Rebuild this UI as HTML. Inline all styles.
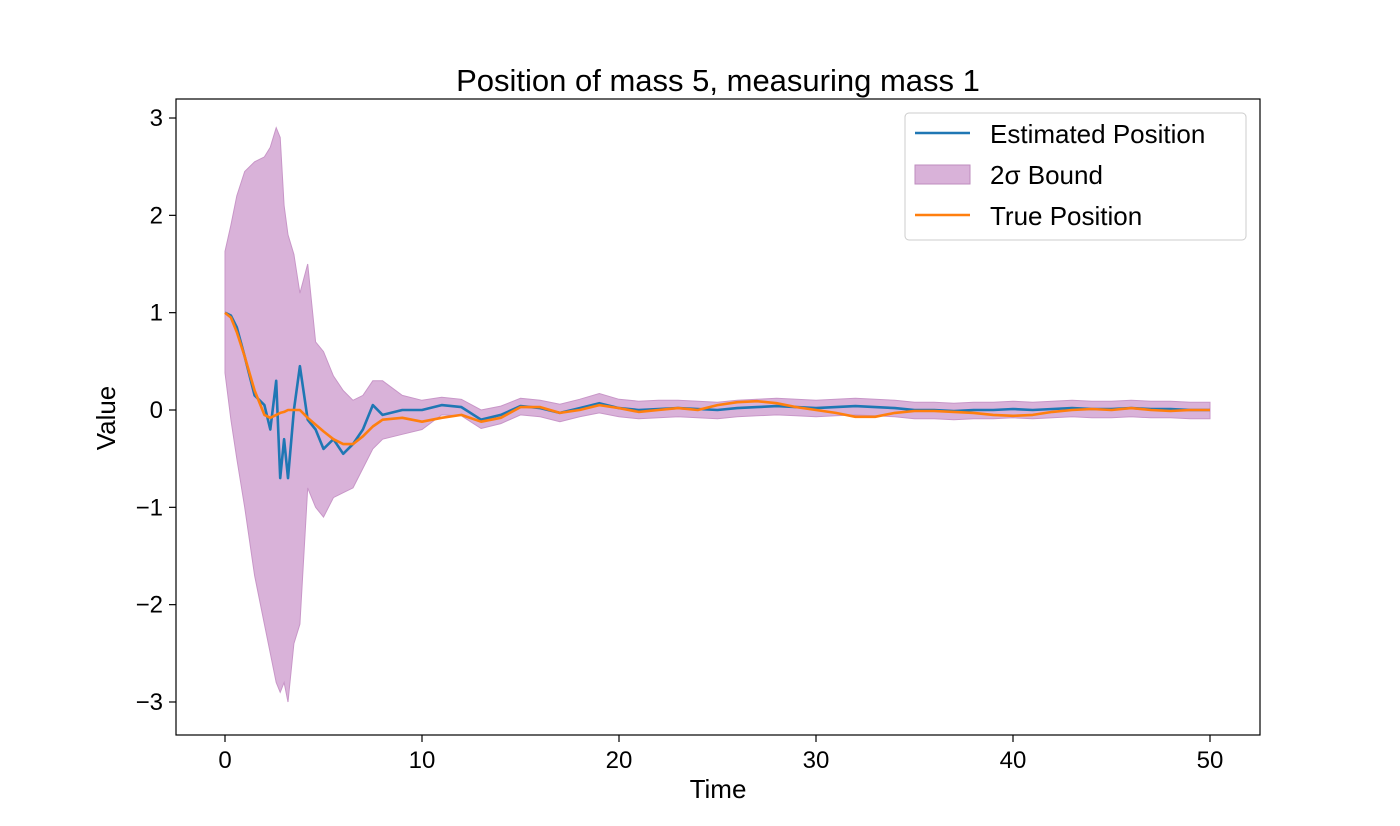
<!DOCTYPE html>
<html><head><meta charset="utf-8"><style>
html,body{margin:0;padding:0;background:#fff;}
svg{display:block;font-family:"Liberation Sans","DejaVu Sans",sans-serif;}
</style></head><body>
<svg id="chart" width="1400" height="826" viewBox="0 0 1400 826">
<rect width="1400" height="826" fill="#fff"/>
<text x="718" y="91" font-size="31" text-anchor="middle" fill="#000">Position of mass 5, measuring mass 1</text>
<g id="plot"></g>
<rect x="176" y="99" width="1084" height="636" fill="none" stroke="#000" stroke-width="1.2"/>
<g id="xticks"></g>
<g id="yticks"></g>
<text x="718" y="798" font-size="26" text-anchor="middle">Time</text>
<text x="115" y="418" font-size="26" text-anchor="middle" transform="rotate(-90 115 418)">Value</text>
<g>
<rect x="905" y="113" width="341" height="127" rx="4" fill="#fff" fill-opacity="0.8" stroke="#ccc"/>
<line x1="915" y1="133" x2="970" y2="133" stroke="#1f77b4" stroke-width="2.5"/>
<text x="990" y="143" font-size="26">Estimated Position</text>
<rect x="915" y="165" width="55" height="19" fill="rgb(217,178,217)" stroke="rgb(190,140,190)"/>
<text x="990" y="184" font-size="26">2σ Bound</text>
<line x1="915" y1="215" x2="970" y2="215" stroke="#ff7f0e" stroke-width="2.5"/>
<text x="990" y="225" font-size="26">True Position</text>
</g>
</svg>
<script>
const times = [0,0.3,0.6,1,1.5,2,2.3,2.6,2.8,3,3.2,3.5,3.8,4.2,4.6,5,5.5,6,6.5,7,7.5,8,9,10,11,12,13,14,15,16,17,18,19,20,21,22,23,24,25,26,27,28,29,30,31,32,33,34,35,36,37,38,39,40,41,42,43,44,45,46,47,48,49,50];
const estimated = [1,0.97,0.85,0.55,0.15,0.05,-0.2,0.3,-0.7,-0.3,-0.7,0,0.45,-0.1,-0.2,-0.4,-0.3,-0.45,-0.35,-0.2,0.05,-0.05,0,0,0.05,0.03,-0.1,-0.05,0.04,0.02,-0.03,0.02,0.07,0.02,0,0.01,0.02,0.01,0,0.02,0.03,0.04,0.03,0.02,0.03,0.04,0.03,0.02,0,0,-0.01,0,0,0.01,0,0.01,0.02,0.01,0.01,0.02,0.01,0.01,0,0];
const truth = [1,0.95,0.8,0.55,0.2,-0.05,-0.08,-0.05,-0.03,-0.02,0,0,0,-0.08,-0.15,-0.22,-0.3,-0.35,-0.35,-0.27,-0.17,-0.1,-0.08,-0.12,-0.08,-0.05,-0.12,-0.08,0.03,0.03,-0.03,0,0.05,0.02,-0.02,0,0.02,0,0.05,0.08,0.09,0.07,0.03,0,-0.03,-0.07,-0.07,-0.03,-0.01,-0.01,-0.02,-0.03,-0.05,-0.06,-0.05,-0.02,0,0.01,0,0.02,0,-0.01,0,0];
const upper = [1.63,1.9,2.2,2.45,2.55,2.6,2.7,2.9,2.8,2.1,1.8,1.6,1.2,1.5,0.7,0.6,0.35,0.2,0.1,0.15,0.3,0.3,0.15,0.1,0.13,0.11,0.0,0.04,0.12,0.1,0.06,0.11,0.17,0.11,0.09,0.1,0.1,0.09,0.08,0.1,0.11,0.12,0.11,0.1,0.11,0.12,0.11,0.1,0.08,0.08,0.07,0.08,0.08,0.09,0.08,0.09,0.1,0.09,0.09,0.1,0.09,0.09,0.08,0.08];
const lower = [0.38,-0.1,-0.5,-1.0,-1.7,-2.2,-2.5,-2.8,-2.9,-2.8,-3.0,-2.4,-2.2,-0.8,-1.0,-1.1,-0.9,-0.85,-0.8,-0.6,-0.4,-0.3,-0.25,-0.2,-0.05,-0.06,-0.19,-0.14,-0.05,-0.07,-0.12,-0.07,-0.03,-0.07,-0.09,-0.08,-0.07,-0.08,-0.09,-0.07,-0.06,-0.05,-0.06,-0.07,-0.06,-0.05,-0.06,-0.07,-0.09,-0.09,-0.1,-0.09,-0.09,-0.08,-0.09,-0.08,-0.07,-0.08,-0.08,-0.07,-0.08,-0.08,-0.09,-0.09];
const xTicks = [0,10,20,30,40,50];
const yTicks = [3,2,1,0,-1,-2,-3];
const yTickLabels = ["3","2","1","0","\u22121","\u22122","\u22123"];

const NS = "http://www.w3.org/2000/svg";
function xs(t){ return 225 + t*19.7; }
function ys(v){ return 410 - v*97.33; }
function mk(tag, attrs, parent){ const e=document.createElementNS(NS,tag); for(const k in attrs) e.setAttribute(k,attrs[k]); parent.appendChild(e); return e; }
const plot = document.getElementById('plot');

let d = times.map((t,i)=>(i?'L':'M')+xs(t).toFixed(1)+','+ys(upper[i]).toFixed(1)).join(' ');
for(let i=times.length-1;i>=0;i--) d += ' L'+xs(times[i]).toFixed(1)+','+ys(lower[i]).toFixed(1);
const band = mk('path',{d:d+' Z',fill:'rgb(217,178,217)',stroke:'rgb(200,150,200)','stroke-width':1},plot);



const est = mk('path',{d:times.map((t,i)=>(i?'L':'M')+xs(t).toFixed(1)+','+ys(estimated[i]).toFixed(1)).join(' '),fill:'none',stroke:'#1f77b4','stroke-width':2.6,'stroke-linejoin':'round'},plot);



const tr = mk('path',{d:times.map((t,i)=>(i?'L':'M')+xs(t).toFixed(1)+','+ys(truth[i]).toFixed(1)).join(' '),fill:'none',stroke:'#ff7f0e','stroke-width':2.6,'stroke-linejoin':'round'},plot);



const xg = document.getElementById('xticks');
xTicks.forEach(t=>{
  const l = mk('line',{x1:xs(t),x2:xs(t),y1:735,y2:742,stroke:'#000','stroke-width':1.2},xg);
  
  
  const tx = mk('text',{x:xs(t),y:768,'font-size':24,'text-anchor':'middle'},xg);
  tx.textContent = String(t);
  
  
});
const yg = document.getElementById('yticks');
yTicks.forEach((v,i)=>{
  const l = mk('line',{x1:169,x2:176,y1:ys(v),y2:ys(v),stroke:'#000','stroke-width':1.2},yg);
  
  
  const tx = mk('text',{x:163,y:ys(v)+8,'font-size':24,'text-anchor':'end'},yg);
  tx.textContent = yTickLabels[i];
  
  
});
</script>
</body></html>
